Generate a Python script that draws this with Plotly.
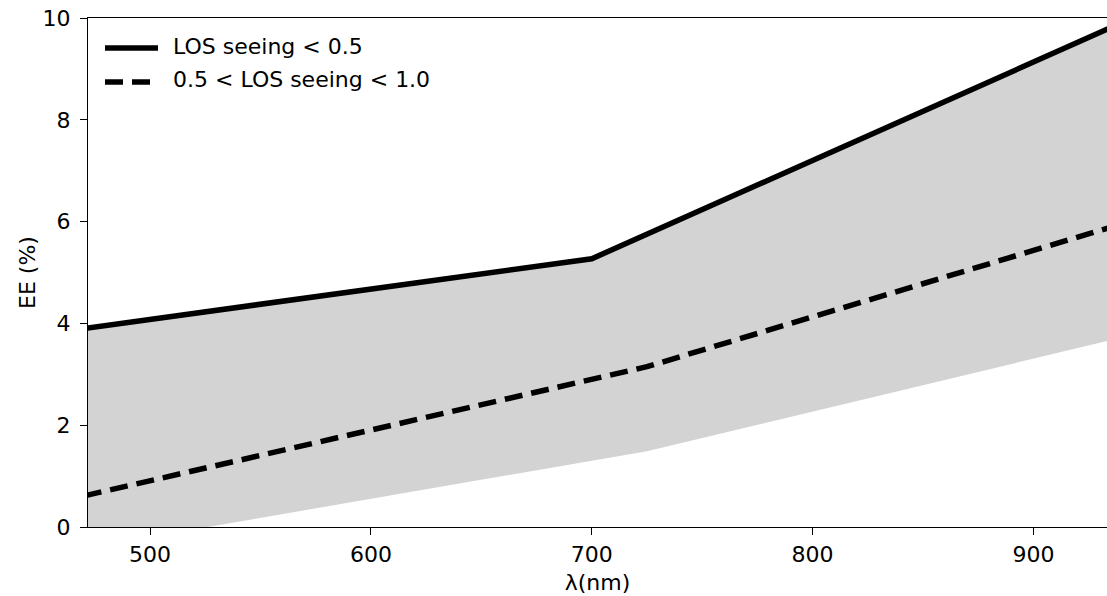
import plotly.graph_objects as go

# Data
wl_good = [470, 700, 935]          # wavelength (nm), LOS seeing < 0.5
ee_good = [3.90, 5.27, 9.81]       # EE (%)

wl_mid = [470, 725, 935]           # wavelength (nm), 0.5 < LOS seeing < 1.0
ee_mid = [0.61, 3.15, 5.89]        # EE (%)

wl_low = [470, 725, 935]           # lower bound of shaded band
ee_low = [-0.42, 1.49, 3.67]

x_ticks = [500, 600, 700, 800, 900]
y_ticks = [0, 2, 4, 6, 8, 10]
labels = ["LOS seeing < 0.5", "0.5 < LOS seeing < 1.0"]

FONT = "DejaVu Sans"
FS = 22

fig = go.Figure()

# shaded band between the good-seeing curve and the lower bound
fig.add_trace(go.Scatter(
    x=wl_good + wl_low[::-1],
    y=ee_good + ee_low[::-1],
    fill="toself", fillcolor="#d3d3d3",
    line=dict(width=0), mode="lines",
    hoverinfo="skip", showlegend=False,
))
fig.add_trace(go.Scatter(
    x=wl_good, y=ee_good, mode="lines", name=labels[0],
    line=dict(color="black", width=5.5), showlegend=False,
))
fig.add_trace(go.Scatter(
    x=wl_mid, y=ee_mid, mode="lines", name=labels[1],
    line=dict(color="black", width=5.5, dash="18px,9px"), showlegend=False,
))

W, H = 1107, 596
ml, mr, mt, mb = 88, 0, 18, 69
pw, ph = W - ml - mr, H - mt - mb


def px_x(p):
    return (p - ml) / pw


def px_y(p):
    return (H - mb - p) / ph


# manual legend (matplotlib style)
shapes = [
    dict(type="line", xref="paper", yref="paper",
         x0=px_x(105), x1=px_x(158), y0=px_y(48), y1=px_y(48),
         line=dict(color="black", width=5.5)),
    dict(type="line", xref="paper", yref="paper",
         x0=px_x(105), x1=px_x(158), y0=px_y(82), y1=px_y(82),
         line=dict(color="black", width=5.5, dash="18px,9px")),
]
annotations = [
    dict(xref="paper", yref="paper", x=px_x(171), y=px_y(46), text=labels[0],
         showarrow=False, xanchor="left", yanchor="middle",
         font=dict(family=FONT, size=FS, color="black")),
    dict(xref="paper", yref="paper", x=px_x(171), y=px_y(80), text=labels[1],
         showarrow=False, xanchor="left", yanchor="middle",
         font=dict(family=FONT, size=FS, color="black")),
]

fig.update_layout(
    width=W, height=H,
    margin=dict(l=ml, r=mr, t=mt, b=mb, pad=0),
    paper_bgcolor="white", plot_bgcolor="white",
    font=dict(family=FONT, size=FS, color="black"),
    shapes=shapes, annotations=annotations,
    showlegend=False,
)
fig.update_xaxes(
    range=[471.9, 933.3], tickvals=x_ticks, ticks="outside", ticklen=7,
    tickwidth=1.3, tickcolor="black", showline=True, linecolor="black",
    linewidth=1.3, mirror=True, showgrid=False, zeroline=False,
    ticklabeloverflow="allow",
    title=dict(text="λ(nm)", standoff=9, font=dict(size=FS)),
)
fig.update_yaxes(
    range=[0, 10], tickvals=y_ticks, ticks="outside", ticklen=7,
    tickwidth=1.3, tickcolor="black", showline=True, linecolor="black",
    linewidth=1.3, showgrid=False, zeroline=False,
    ticklabeloverflow="allow", ticklabelstandoff=5,
    title=dict(text="EE (%)", standoff=0, font=dict(size=FS)),
)

# remove the default page margin so the figure fills the window exactly
fig.write_html(
    "out.html",
    config={"displayModeBar": False},
    post_script="document.body.style.margin='0';document.body.style.overflow='hidden';",
)
